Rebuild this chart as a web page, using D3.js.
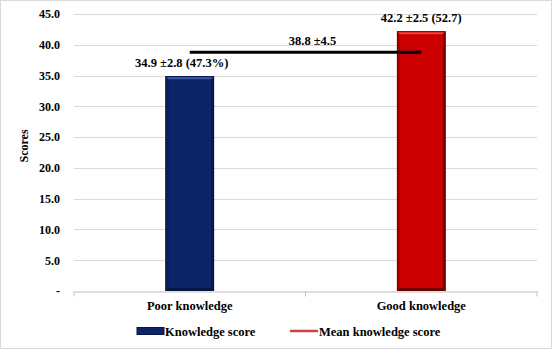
<!DOCTYPE html>
<html>
<head>
<meta charset="utf-8">
<script src="https://cdn.jsdelivr.net/npm/d3@7"></script>
<style>
  html, body { margin: 0; padding: 0; background: #fff; }
  svg { display: block; }
  svg text { font-family: "Liberation Serif", "Times New Roman", Times, serif !important; font-weight: bold; fill: #000; }
</style>
</head>
<body>
<div id="chart"></div>
<script>
// chart data
const categories = ["Poor knowledge", "Good knowledge"];
const scores = [34.9, 42.2];
const barLabels = ["34.9 ±2.8 (47.3%)", "42.2 ±2.5 (52.7)"];
const meanScore = 38.8;
const meanLabel = "38.8 ±4.5";
const yTicks = [0, 5, 10, 15, 20, 25, 30, 35, 40, 45];
const legendLabels = ["Knowledge score", "Mean knowledge score"];

const W = 552, H = 349;
const margin = {top: 14, right: 15, bottom: 58, left: 74};
const colors = {
    poor: {fill: "#0c2468", light: "#3a5aa8", dark: "#061640"},
    good: {fill: "#cc0000", light: "#ff3b3b", dark: "#6e0000"}
};

const svg = d3.select("#chart")
    .append("svg")
    .attr("width", W)
    .attr("height", H);

// outer frame
svg.append("rect")
    .attr("x", 0.5).attr("y", 0.5)
    .attr("width", W - 1).attr("height", H - 1)
    .attr("fill", "#fff")
    .attr("stroke", "#d9d9d9");

const x = d3.scaleBand()
    .domain(categories)
    .range([margin.left, W - margin.right])
    .padding(0);

const y = d3.scaleLinear()
    .domain([0, 45])
    .range([H - margin.bottom, margin.top]);

const barW = x.bandwidth() * 0.21;
const cx = d => x(d) + x.bandwidth() / 2;

// gridlines
svg.append("g")
    .selectAll("line")
    .data(yTicks.filter(t => t > 0))
    .join("line")
    .attr("x1", margin.left).attr("x2", W - margin.right)
    .attr("y1", d => Math.round(y(d)) + 0.5).attr("y2", d => Math.round(y(d)) + 0.5)
    .attr("stroke", "#d9d9d9");

// y axis labels (no axis line)
const yAxis = svg.append("g")
    .attr("transform", `translate(${margin.left},0)`)
    .call(d3.axisLeft(y).tickValues(yTicks).tickSize(0).tickPadding(14)
        .tickFormat(d => d === 0 ? "-" : d3.format(".1f")(d)));
yAxis.select(".domain").remove();
yAxis.selectAll("text").attr("font-size", 12);

// x axis
const xAxis = svg.append("g")
    .attr("transform", `translate(0,${Math.round(y(0)) + 0.5})`)
    .call(d3.axisBottom(x).tickSize(0).tickPadding(10));
xAxis.select(".domain").attr("stroke", "#bfbfbf");
xAxis.selectAll("text").attr("font-size", 12.5);
// category separators
xAxis.selectAll("line.sep")
    .data([x.range()[0], x(categories[1]), x.range()[1]])
    .join("line")
    .attr("class", "sep")
    .attr("x1", d => d).attr("x2", d => d)
    .attr("y1", 0).attr("y2", 5)
    .attr("stroke", "#bfbfbf");

// bevelled bars
const keys = ["poor", "good"];
const bars = svg.append("g")
    .selectAll("g")
    .data(categories.map((c, i) => ({cat: c, v: scores[i], col: colors[keys[i]]})))
    .join("g");

bars.each(function (d) {
    const g = d3.select(this);
    const x0 = cx(d.cat) - barW / 2, x1 = x0 + barW;
    const y0 = y(d.v), y1 = y(0);
    const b = 3;
    g.append("rect")
        .attr("x", x0).attr("y", y0)
        .attr("width", barW).attr("height", y1 - y0)
        .attr("fill", d.col.fill);
    // top bevel
    g.append("polygon")
        .attr("points", [[x0, y0], [x1, y0], [x1 - b, y0 + b], [x0 + b, y0 + b]].join(" "))
        .attr("fill", d.col.light);
    // right bevel
    g.append("polygon")
        .attr("points", [[x1, y0], [x1, y1], [x1 - b, y1 - b], [x1 - b, y0 + b]].join(" "))
        .attr("fill", d.col.dark).attr("opacity", 0.7);
    // bottom bevel
    g.append("polygon")
        .attr("points", [[x0, y1], [x1, y1], [x1 - b, y1 - b], [x0 + b, y1 - b]].join(" "))
        .attr("fill", d.col.dark);
    // left bevel
    g.append("polygon")
        .attr("points", [[x0, y0], [x0 + b, y0 + b], [x0 + b, y1 - b], [x0, y1]].join(" "))
        .attr("fill", d.col.dark).attr("opacity", 0.35);
    g.append("rect")
        .attr("x", x0 + 0.5).attr("y", y0 + 0.5)
        .attr("width", barW - 1).attr("height", y1 - y0 - 1)
        .attr("fill", "none")
        .attr("stroke", d.col.dark).attr("stroke-width", 1);
});

// bar labels
svg.append("g")
    .selectAll("text")
    .data(categories)
    .join("text")
    .attr("x", (d, i) => cx(d) - (i === 0 ? 8 : 0))
    .attr("y", (d, i) => y(scores[i]) - 9)
    .attr("text-anchor", "middle")
    .attr("font-size", 12.5)
    .text((d, i) => barLabels[i]);

// mean line
svg.append("line")
    .attr("x1", cx(categories[0])).attr("x2", cx(categories[1]))
    .attr("y1", y(meanScore)).attr("y2", y(meanScore))
    .attr("stroke", "#000")
    .attr("stroke-width", 3);

svg.append("text")
    .attr("x", (cx(categories[0]) + cx(categories[1])) / 2 + 7)
    .attr("y", y(meanScore) - 7)
    .attr("text-anchor", "middle")
    .attr("font-size", 12.5)
    .text(meanLabel);

// y title
svg.append("text")
    .attr("transform", "translate(28,146) rotate(-90)")
    .attr("text-anchor", "middle")
    .attr("font-size", 12)
    .text("Scores");

// legend
const leg = svg.append("g").attr("transform", "translate(137,331)");
leg.append("rect")
    .attr("x", 0).attr("y", -3.5)
    .attr("width", 27).attr("height", 7)
    .attr("fill", colors.poor.fill)
    .attr("stroke", colors.poor.dark);
leg.append("text")
    .attr("x", 28).attr("y", 4.5)
    .attr("font-size", 12.5)
    .text(legendLabels[0]);
leg.append("line")
    .attr("x1", 153).attr("x2", 181)
    .attr("y1", 0).attr("y2", 0)
    .attr("stroke", "#c94444")
    .attr("stroke-width", 2.5);
leg.append("text")
    .attr("x", 182).attr("y", 4.5)
    .attr("font-size", 12.5)
    .text(legendLabels[1]);
</script>
</body>
</html>
